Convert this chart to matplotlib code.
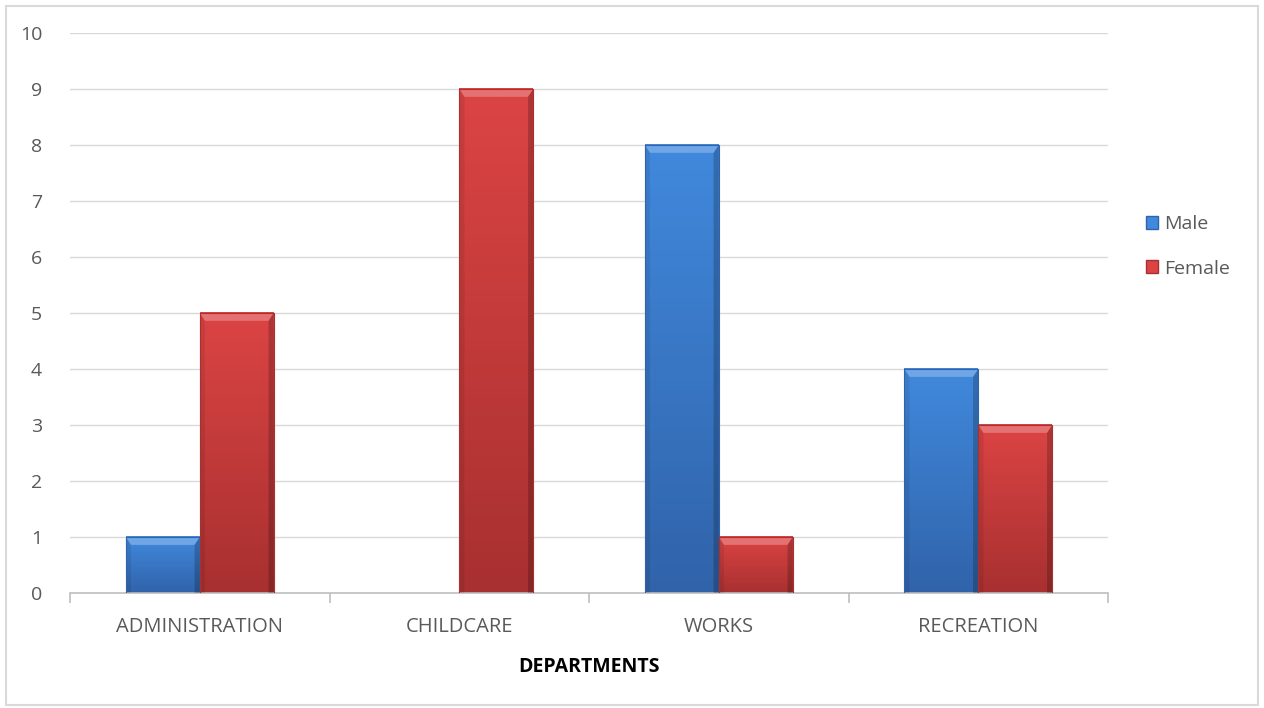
import numpy as np
import matplotlib
matplotlib.use('Agg')
import matplotlib.pyplot as plt
from matplotlib.colors import LinearSegmentedColormap
from matplotlib.patches import Rectangle

plt.rcParams['font.family'] = ['Open Sans', 'DejaVu Sans']

# data
departments = ['ADMINISTRATION', 'CHILDCARE', 'WORKS', 'RECREATION']
male = [1, 0, 8, 4]
female = [5, 9, 1, 3]
series_names = ['Male', 'Female']
y_ticks = list(range(0, 11))

blue_top, blue_bot = '#4189dd', '#3063aa'
red_top, red_bot = '#dc4444', '#a83030'

fig = plt.figure(figsize=(12.64, 7.08), dpi=100)
fig.patches.append(Rectangle((0.005, 0.004), 0.99, 0.988, transform=fig.transFigure,
                             fill=False, edgecolor='#d9d9d9', lw=1.5))
ax = fig.add_axes([0.0554, 0.1624, 0.8212, 0.791])

w = 0.285
x = np.arange(len(departments))


def bevel_bar(ax, xc, h, color_top, color_bot):
    if h <= 0:
        return
    cmap = LinearSegmentedColormap.from_list('g', [color_bot, color_top])
    grad = np.linspace(0, 1, 256).reshape(-1, 1)
    ax.imshow(grad, cmap=cmap, aspect='auto', origin='lower',
              extent=(xc - w / 2, xc + w / 2, 0, h), zorder=2)
    # bevel: lighter top strip, darker side edges
    bh = 0.14
    top = [xc - w / 2, xc + w / 2, xc + w / 2 - 0.02, xc - w / 2 + 0.02]
    ax.fill(top, [h, h, h - bh, h - bh], color=color_top, zorder=3, lw=0)
    ax.fill(top, [h, h, h - bh, h - bh], color='white', alpha=0.25, zorder=3, lw=0)
    ax.fill([xc + w / 2, xc + w / 2, xc + w / 2 - 0.02, xc + w / 2 - 0.02],
            [0, h, h - bh, 0], color='black', alpha=0.2, zorder=3, lw=0)
    ax.fill([xc - w / 2, xc - w / 2, xc - w / 2 + 0.02, xc - w / 2 + 0.02],
            [0, h, h - bh, 0], color='black', alpha=0.08, zorder=3, lw=0)
    ax.add_patch(Rectangle((xc - w / 2, 0), w, h, fill=False,
                           edgecolor=color_bot, lw=0.8, zorder=4))


for i in range(len(departments)):
    bevel_bar(ax, x[i] - w / 2, male[i], blue_top, blue_bot)
    bevel_bar(ax, x[i] + w / 2, female[i], red_top, red_bot)

ax.set_xlim(-0.5, len(departments) - 0.5)
ax.set_ylim(0, 10)
ax.set_yticks(y_ticks)
ax.yaxis.grid(True, color='#d9d9d9', lw=1)
ax.set_axisbelow(True)
for s in ['top', 'right', 'left']:
    ax.spines[s].set_visible(False)
ax.spines['bottom'].set_color('#bfbfbf')
ax.spines['bottom'].set_linewidth(1.2)
ax.tick_params(axis='y', length=0, labelsize=14, labelcolor='#595959', pad=20)

ax.set_xticks(x)
ax.set_xticklabels(departments)
ax.tick_params(axis='x', length=0, labelsize=14.5, labelcolor='#595959', pad=17)
ax.set_xticks(np.arange(len(departments) + 1) - 0.5, minor=True)
ax.tick_params(axis='x', which='minor', length=7, color='#bfbfbf', width=1.2)

ax.set_xlabel('DEPARTMENTS', fontsize=14, fontweight='bold', color='#000000', labelpad=15)

handles = [Rectangle((0, 0), 1, 1, facecolor=blue_top, edgecolor=blue_bot),
           Rectangle((0, 0), 1, 1, facecolor=red_top, edgecolor=red_bot)]
leg = fig.legend(handles, series_names, loc='center left', bbox_to_anchor=(0.893, 0.652),
                 frameon=False, fontsize=14, handlelength=0.6, handleheight=0.6,
                 handletextpad=0.3, labelspacing=1.35)
for t in leg.get_texts():
    t.set_color('#595959')

fig.savefig('out.png', dpi=100)
